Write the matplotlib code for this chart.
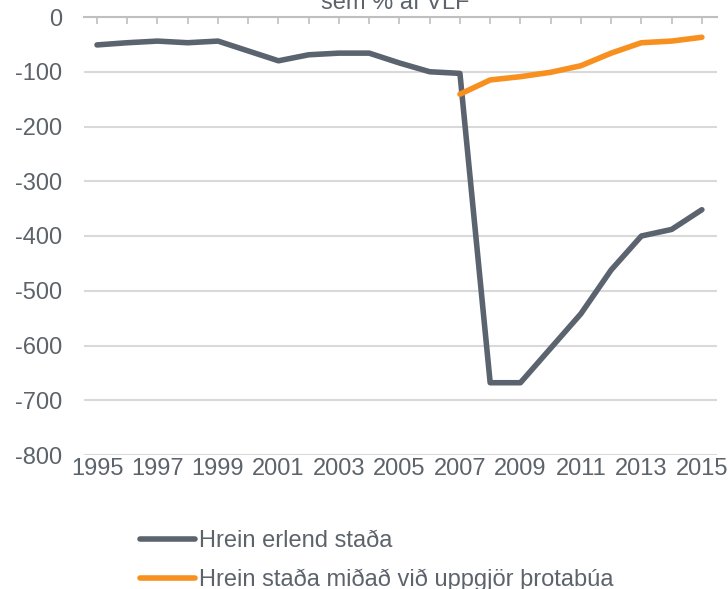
import matplotlib
matplotlib.use("Agg")
import matplotlib.pyplot as plt

plt.rcParams['font.family'] = ['Liberation Sans', 'DejaVu Sans']

years = list(range(1995, 2016))
# Hrein erlend staða (% af VLF)
net_position = [-51, -47, -44, -47, -44, -62, -80, -69, -66, -66, -84, -100, -103,
                -668, -668, -605, -542, -462, -400, -388, -352]
# Hrein staða miðað við uppgjör þrotabúa, from 2007
settled_years = list(range(2007, 2016))
settled_position = [-141, -115, -109, -101, -89, -66, -47, -44, -37]

series_names = ["Hrein erlend staða", "Hrein staða miðað við uppgjör þrotabúa"]
yticks = [0, -100, -200, -300, -400, -500, -600, -700, -800]

gray = "#5b646e"
orange = "#f7901e"
text_col = "#5c636b"

fig = plt.figure(figsize=(7.28, 5.89), dpi=100)
ax = fig.add_axes([84 / 728, 1 - 455 / 589, (717 - 84) / 728, (455 - 17) / 589])

ax.plot(years, net_position, color=gray, lw=4, solid_capstyle='round',
        label=series_names[0], zorder=3)
ax.plot(settled_years, settled_position, color=orange, lw=4, solid_capstyle='round',
        label=series_names[1], zorder=4)

ax.set_ylim(-800, 0)
ax.set_xlim(1995 - 0.43, 2015 + 0.5)
ax.set_yticks(yticks)
ax.set_yticklabels([str(v) for v in yticks])
ax.set_xticks(years)
ax.set_xticklabels([str(y) if (y - 1995) % 2 == 0 else "" for y in years])

for s in ['left', 'right', 'bottom']:
    ax.spines[s].set_visible(False)
ax.spines['top'].set_color("#bfbfbf")
ax.spines['top'].set_linewidth(1.5)

ax.grid(axis='y', color="#d9d9d9", lw=1.5, zorder=0)
ax.tick_params(axis='x', top=True, bottom=False, labeltop=False, labelbottom=True,
               direction='in', length=5, width=1.2, color="#bfbfbf",
               labelsize=17, labelcolor=text_col, pad=2)
ax.tick_params(axis='y', left=False, labelsize=17, labelcolor=text_col, pad=12)

fig.text(395 / 728, 1 - 9 / 589, "Hrein erlend staða\nsem % af VLF", ha='center',
         va='baseline', fontsize=17, color=text_col)

leg = ax.legend(loc='upper left', bbox_to_anchor=(140 / 728, 1 - 530 / 589),
                bbox_transform=fig.transFigure, frameon=False, fontsize=17,
                handlelength=2.35, handletextpad=0.15, labelspacing=0.72,
                borderpad=0, borderaxespad=0)
for t in leg.get_texts():
    t.set_color(text_col)

fig.savefig("out.png", dpi=100)
